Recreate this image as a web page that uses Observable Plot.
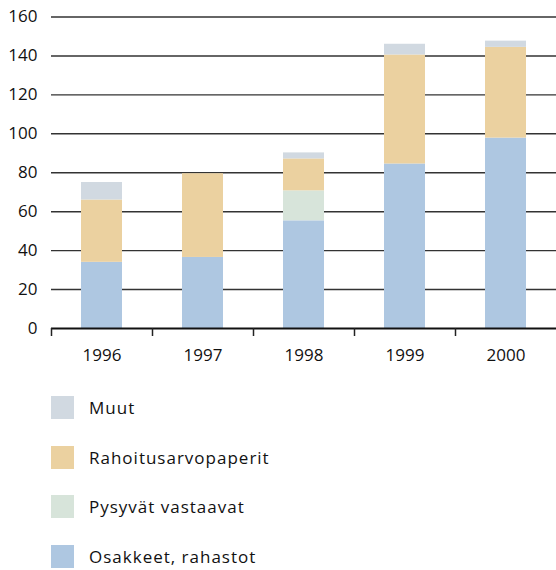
<!DOCTYPE html>
<html>
<head>
<meta charset="utf-8">
<script src="https://cdn.jsdelivr.net/npm/d3@7"></script>
<script src="https://cdn.jsdelivr.net/npm/@observablehq/plot@0.6"></script>
<style>
  html, body { margin: 0; padding: 0; background: #fff; }
  body { width: 556px; font-family: "Open Sans", sans-serif; color: #111; }
  #legend { margin-top: 21px; padding-left: 51px; }
  .row { display: flex; align-items: center; height: 23px; margin-bottom: 26.5px; }
  .sw { width: 23px; height: 23px; margin-right: 15px; flex: none; }
  .lab { font-size: 17px; line-height: 23px; letter-spacing: 1px; }
</style>
</head>
<body>
<div id="chart"></div>
<div id="legend"></div>
<script>
const years = [1996, 1997, 1998, 1999, 2000];
const seriesNames = ["Osakkeet, rahastot", "Pysyvät vastaavat", "Rahoitusarvopaperit", "Muut"];
const osakkeet = [34, 36.5, 55.3, 84.5, 97.8];
const pysyvat = [0, 0, 15.4, 0, 0];
const rahoitus = [32, 43, 16.4, 56, 46.6];
const muut = [9, 0, 3.1, 5.5, 3.2];
const colors = ["#aec7e1", "#d7e4da", "#ebd1a0", "#d1d9e1"];
const yTicks = [0, 20, 40, 60, 80, 100, 120, 140, 160];
const legendOrder = ["Muut", "Rahoitusarvopaperit", "Pysyvät vastaavat", "Osakkeet, rahastot"];

const seriesValues = [osakkeet, pysyvat, rahoitus, muut];
const rows = [];
years.forEach((yr, i) => {
  let base = 0;
  seriesValues.forEach((vals, s) => {
    const v = vals[i];
    if (v > 0) rows.push({year: yr, series: seriesNames[s], y1: base, y2: base + v});
    base += v;
  });
});

const boundaries = years.map(y => y - 0.5);

const chart = Plot.plot({
  width: 556,
  height: 375,
  marginLeft: 51,
  marginRight: 0,
  marginTop: 16.5,
  marginBottom: 47,
  style: {fontFamily: "'Open Sans', sans-serif", fontSize: "17px", color: "#111"},
  x: {type: "linear", domain: [1995.5, 2000.5]},
  y: {domain: [0, 160]},
  color: {domain: seriesNames, range: colors},
  marks: [
    Plot.ruleY(yTicks.filter(d => d > 0), {stroke: "#333", strokeWidth: 1.4}),
    Plot.rectY(rows, {x1: d => d.year - 0.203, x2: d => d.year + 0.203, y1: "y1", y2: "y2", fill: "series"}),
    Plot.ruleY([0], {stroke: "#111", strokeWidth: 2}),
    Plot.axisY({ticks: yTicks, tickSize: 0, tickPadding: 14, label: null, fontSize: 17}),
    Plot.axisX({ticks: boundaries, tickSize: 8, tickFormat: () => "", label: null, stroke: "#222", strokeWidth: 1.5}),
    Plot.axisX({ticks: years, tickSize: 0, tickPadding: 20, tickFormat: d => String(d), label: null, fontSize: 17})
  ]
});
document.getElementById("chart").appendChild(chart);

const legend = document.getElementById("legend");
legendOrder.forEach(name => {
  const row = document.createElement("div");
  row.className = "row";
  const sw = document.createElement("div");
  sw.className = "sw";
  sw.style.background = colors[seriesNames.indexOf(name)];
  const lab = document.createElement("span");
  lab.className = "lab";
  lab.textContent = name;
  row.appendChild(sw);
  row.appendChild(lab);
  legend.appendChild(row);
});
</script>
</body>
</html>
